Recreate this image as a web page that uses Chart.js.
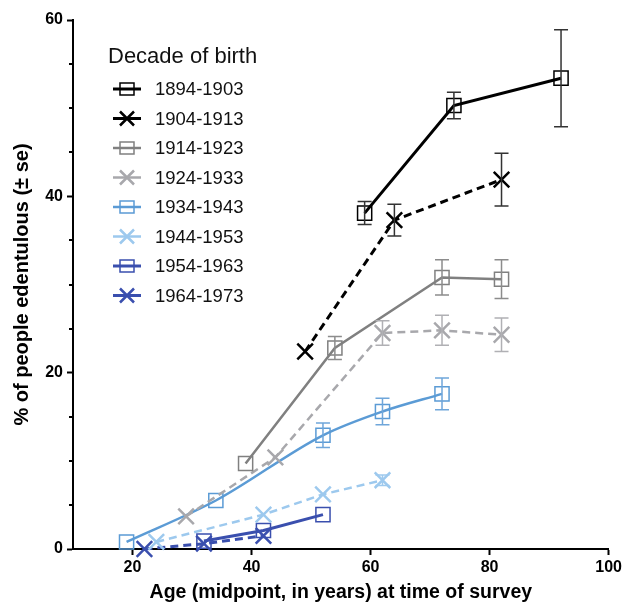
<!DOCTYPE html>
<html>
<head>
<meta charset="utf-8">
<script src="https://cdn.jsdelivr.net/npm/chart.js@4"></script>
<style>
html,body{margin:0;padding:0;background:#fff;}
canvas{display:block;}
</style>
</head>
<body>
<canvas id="c" width="625" height="610"></canvas>
<script>
// ---- data ----
const cohorts = ['1894-1903','1904-1913','1914-1923','1924-1933','1934-1943','1944-1953','1954-1963','1964-1973'];

const age1894 = [59, 74, 92];          const pct1894 = [38.1, 50.3, 53.4];            const se1894 = [1.3, 1.5, 5.5];
const age1904 = [49, 64, 82];          const pct1904 = [22.4, 37.3, 41.9];            const se1904 = [0, 1.8, 3.0];
const age1914 = [39, 54, 72, 82];      const pct1914 = [9.7, 22.8, 30.8, 30.6];       const se1914 = [0, 1.3, 2.0, 2.2];
const age1924 = [29, 44, 62, 72, 82];  const pct1924 = [3.7, 10.4, 24.5, 24.8, 24.3]; const se1924 = [0, 0, 1.4, 1.7, 1.9];
const age1934 = [19, 34, 52, 62, 72];  const pct1934 = [0.8, 5.5, 12.9, 15.6, 17.6];  const se1934 = [0, 0, 1.4, 1.5, 1.8];
const age1944 = [24, 42, 52, 62];      const pct1944 = [0.8, 3.9, 6.2, 7.8];          const se1944 = [0, 0, 0, 0.6];
const age1954 = [32, 42, 52];          const pct1954 = [0.9, 2.1, 3.9];               const se1954 = [0, 0, 0];
const age1964 = [22, 32, 42];          const pct1964 = [0.0, 0.6, 1.5];               const se1964 = [0, 0, 0];

const xTicks = [20, 40, 60, 80, 100];
const yTicks = [0, 20, 40, 60];
const yMinorTicks = [5, 10, 15, 25, 30, 35, 45, 50, 55];

const ages = [age1894, age1904, age1914, age1924, age1934, age1944, age1954, age1964];
const pcts = [pct1894, pct1904, pct1914, pct1924, pct1934, pct1944, pct1954, pct1964];
const ses  = [se1894, se1904, se1914, se1924, se1934, se1944, se1954, se1964];

// ---- styles ----
const colors = ['#000000','#000000','#808080','#a8a8ac','#5b9bd5','#9dc9ee','#3a4fae','#3a4fae'];
const barColors = ['#333333','#333333','#8c8c8c','#b0b0b4','#6fa6da','#9dc9ee','#3a4fae','#3a4fae'];
const markers = ['rect','crossRot','rect','crossRot','rect','crossRot','rect','crossRot'];
const dashed = [false,true,false,true,false,true,false,true];
const widths = [3,3,2.5,2.5,2.5,2.5,3,3];
const FONT = '"Liberation Sans", Arial, sans-serif';

const datasets = cohorts.map((name, i) => ({
  label: name,
  data: ages[i].map((a, j) => ({x: a, y: pcts[i][j]})),
  borderColor: colors[i],
  borderWidth: widths[i],
  borderDash: dashed[i] ? [8, 5] : [],
  pointStyle: markers[i],
  pointRadius: markers[i] === 'rect' ? 10 : 11,
  pointHoverRadius: markers[i] === 'rect' ? 10 : 11,
  pointBorderWidth: markers[i] === 'rect' ? 1.5 : 2.5,
  pointBorderColor: colors[i],
  pointBackgroundColor: 'rgba(0,0,0,0)',
  fill: false,
  tension: 0,
  cubicInterpolationMode: i === 4 ? 'monotone' : 'default',
  clip: false
}));

const errorBars = {
  id: 'errorBars',
  afterDatasetsDraw(chart) {
    const {ctx, scales: {x, y}} = chart;
    ctx.save();
    ctx.setLineDash([]);
    ctx.lineWidth = 1.5;
    for (let i = 0; i < cohorts.length; i++) {
      ctx.strokeStyle = barColors[i];
      for (let j = 0; j < ages[i].length; j++) {
        const e = ses[i][j];
        if (!e) continue;
        const px = x.getPixelForValue(ages[i][j]);
        const top = y.getPixelForValue(pcts[i][j] + e);
        const bot = y.getPixelForValue(pcts[i][j] - e);
        ctx.beginPath();
        ctx.moveTo(px, top); ctx.lineTo(px, bot);
        ctx.moveTo(px - 7, top); ctx.lineTo(px + 7, top);
        ctx.moveTo(px - 7, bot); ctx.lineTo(px + 7, bot);
        ctx.stroke();
      }
    }
    ctx.restore();
  }
};

const minorTicks = {
  id: 'minorTicks',
  afterDraw(chart) {
    const {ctx, scales: {y}, chartArea} = chart;
    ctx.save();
    ctx.strokeStyle = '#000';
    ctx.lineWidth = 2;
    yMinorTicks.forEach(v => {
      const py = Math.round(y.getPixelForValue(v));
      ctx.beginPath();
      ctx.moveTo(chartArea.left - 4, py);
      ctx.lineTo(chartArea.left, py);
      ctx.stroke();
    });
    ctx.restore();
  }
};

function drawMarker(ctx, style, cx, cy, color) {
  ctx.strokeStyle = color;
  ctx.setLineDash([]);
  ctx.beginPath();
  if (style === 'rect') {
    ctx.lineWidth = 1.5;
    ctx.rect(cx - 7, cy - 6, 14, 12);
  } else {
    ctx.lineWidth = 2.5;
    ctx.moveTo(cx - 7, cy - 7); ctx.lineTo(cx + 7, cy + 7);
    ctx.moveTo(cx + 7, cy - 7); ctx.lineTo(cx - 7, cy + 7);
  }
  ctx.stroke();
}

const legendPlugin = {
  id: 'customLegend',
  afterDraw(chart) {
    const {ctx} = chart;
    ctx.save();
    ctx.fillStyle = '#111';
    ctx.textBaseline = 'middle';
    ctx.textAlign = 'left';
    ctx.font = '22px ' + FONT;
    ctx.fillText('Decade of birth', 108, 57);
    ctx.font = '18.5px ' + FONT;
    cohorts.forEach((name, i) => {
      const cy = 89 + i * 29.5;
      ctx.strokeStyle = colors[i];
      ctx.lineWidth = widths[i];
      ctx.setLineDash([]);
      ctx.beginPath();
      ctx.moveTo(113, cy); ctx.lineTo(141, cy);
      ctx.stroke();
      drawMarker(ctx, markers[i], 127, cy, colors[i]);
      ctx.fillStyle = '#111';
      ctx.fillText(name, 155, cy + 1);
    });
    ctx.restore();
  }
};

new Chart(document.getElementById('c'), {
  type: 'line',
  data: {datasets},
  options: {
    responsive: false,
    devicePixelRatio: 1,
    animation: false,
    events: [],
    layout: {padding: {top: 20, right: 14, left: 0, bottom: 0}},
    plugins: {legend: {display: false}, tooltip: {enabled: false}},
    scales: {
      x: {
        type: 'linear',
        min: 10, max: 100,
        afterBuildTicks: s => { s.ticks = xTicks.map(v => ({value: v})); },
        afterFit: s => { s.height = 61; },
        grid: {drawOnChartArea: false, drawTicks: true, tickLength: 6, tickWidth: 2, tickColor: '#000'},
        border: {display: true, color: '#000', width: 2},
        ticks: {color: '#000', padding: 3, font: {family: FONT, size: 16, weight: 'bold'}, maxRotation: 0},
        title: {display: true, text: 'Age (midpoint, in years) at time of survey', color: '#000',
                font: {family: FONT, size: 19.5, weight: 'bold'}, padding: {top: 0, bottom: 6}}
      },
      y: {
        type: 'linear',
        min: 0, max: 60,
        afterBuildTicks: s => { s.ticks = yTicks.map(v => ({value: v})); },
        afterFit: s => { s.width = 73; },
        grid: {drawOnChartArea: false, drawTicks: true, tickLength: 6, tickWidth: 2, tickColor: '#000'},
        border: {display: true, color: '#000', width: 2},
        ticks: {color: '#000', padding: 4, font: {family: FONT, size: 16, weight: 'bold'}},
        title: {display: true, text: '% of people edentulous (± se)', color: '#000',
                font: {family: FONT, size: 20, weight: 'bold'}, padding: {top: 10, bottom: 0}}
      }
    }
  },
  plugins: [errorBars, minorTicks, legendPlugin]
});
</script>
</body>
</html>
